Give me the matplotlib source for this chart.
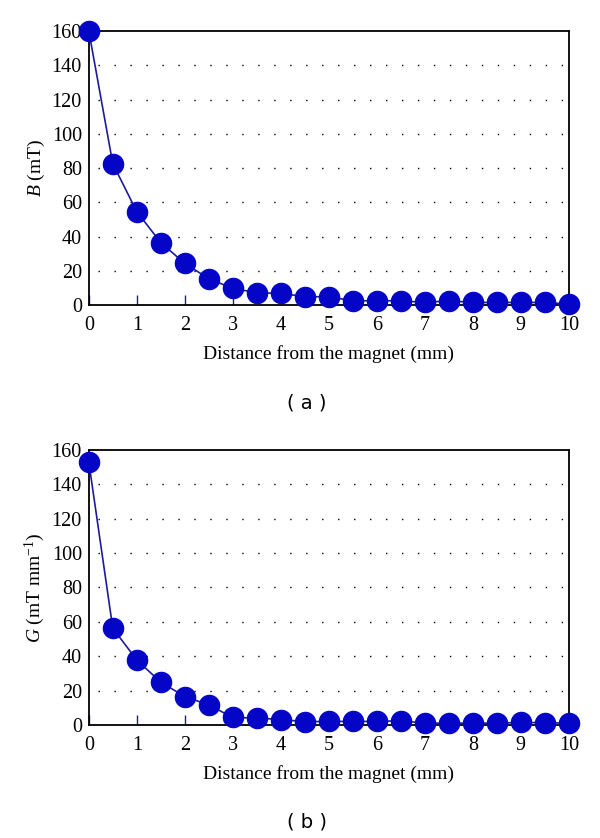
import matplotlib
matplotlib.use("Agg")
import matplotlib.pyplot as plt

distance = [0, 0.5, 1, 1.5, 2, 2.5, 3, 3.5, 4, 4.5, 5, 5.5, 6, 6.5, 7, 7.5, 8, 8.5, 9, 9.5, 10]
B_values = [160, 82.5, 54.5, 36.4, 24.3, 15.4, 9.7, 7.2, 6.8, 4.9, 4.8, 2.5, 2.5, 2.5, 1.5, 2.5, 1.5, 1.5, 1.5, 1.5, 0.6]
G_values = [153, 56.2, 37.8, 24.8, 16.5, 11.6, 4.3, 4.0, 3.1, 1.9, 2.0, 2.0, 2.0, 2.4, 1.0, 1.0, 1.0, 1.0, 1.4, 1.3, 1.0]
x_ticks = list(range(0, 11))
y_ticks = list(range(0, 161, 20))

plt.rcParams['font.family'] = ['Liberation Serif', 'DejaVu Serif']
plt.rcParams['mathtext.fontset'] = 'custom'
plt.rcParams['mathtext.rm'] = 'Liberation Serif'
plt.rcParams['mathtext.it'] = 'Liberation Serif:italic'

fig = plt.figure(figsize=(6, 8.38), dpi=100)
ax_a = fig.add_axes([0.148, 0.636, 0.800, 0.327])
ax_b = fig.add_axes([0.148, 0.135, 0.800, 0.328])

line_color = '#1c1c9a'
marker_color = '#0505c8'

def style(ax, yvals, ylabel):
    ax.plot(distance, yvals, color=line_color, lw=1.2, marker='o', ms=14.5,
            markerfacecolor=marker_color, markeredgecolor=marker_color,
            clip_on=False, zorder=5)
    ax.set_xlim(0, 10)
    ax.set_ylim(0, 160)
    ax.set_xticks(x_ticks)
    ax.set_yticks(y_ticks)
    ax.tick_params(axis='x', direction='in', length=7, width=1, color=line_color,
                   labelsize=14.5, pad=8)
    ax.tick_params(axis='y', length=0, labelsize=14.5, pad=5)
    for v in y_ticks[1:-1]:
        ax.axhline(v, xmin=0.02, xmax=1, color='black', lw=1.0,
                   linestyle=(0, (1, 10.5)), zorder=1)
    for s in ax.spines.values():
        s.set_color('black')
        s.set_linewidth(1.3)
    ax.set_xlabel('Distance from the magnet (mm)', fontsize=14, labelpad=7)
    ax.set_ylabel(ylabel, fontsize=14, labelpad=3)

style(ax_a, B_values, r'$B$ (mT)')
style(ax_b, G_values, r'$G$ (mT mm$^{-1}$)')

fig.text(0.512, 1 - 403 / 838, '( a )', ha='center', va='center', fontsize=14,
         family='DejaVu Sans')
fig.text(0.512, 1 - 822 / 838, '( b )', ha='center', va='center', fontsize=14,
         family='DejaVu Sans')

fig.savefig('out.png', dpi=100)
